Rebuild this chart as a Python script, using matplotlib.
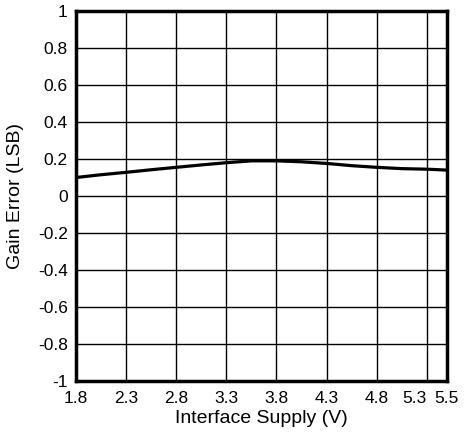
import matplotlib
matplotlib.use("Agg")
import matplotlib.pyplot as plt

supply_v = [1.8, 2.05, 2.3, 2.55, 2.8, 3.05, 3.3, 3.55, 3.8, 4.05, 4.3, 4.55, 4.8, 5.05, 5.3, 5.5]
gain_err = [0.100, 0.115, 0.128, 0.142, 0.155, 0.168, 0.180, 0.190, 0.190, 0.185, 0.176, 0.164, 0.155, 0.148, 0.145, 0.140]

xticks = [1.8, 2.3, 2.8, 3.3, 3.8, 4.3, 4.8, 5.3, 5.5]
xtick_labels = ["1.8", "2.3", "2.8", "3.3", "3.8", "4.3", "4.8", "5.3", "5.5"]
yticks = [-1, -0.8, -0.6, -0.4, -0.2, 0, 0.2, 0.4, 0.6, 0.8, 1]
ytick_labels = ["-1", "-0.8", "-0.6", "-0.4", "-0.2", "0", "0.2", "0.4", "0.6", "0.8", "1"]

plt.rcParams['font.family'] = ['Liberation Sans', 'DejaVu Sans']

fig = plt.figure(figsize=(4.67, 4.34), dpi=100)
ax = fig.add_axes([0.1627, 0.122, 0.7943, 0.8527])
ax.plot(supply_v, gain_err, color='black', linewidth=2.3, zorder=3)
ax.set_xlim(1.8, 5.5)
ax.set_ylim(-1, 1)
ax.set_xticks(xticks)
ax.set_xticklabels(xtick_labels)
ax.set_yticks(yticks)
ax.set_yticklabels(ytick_labels)
ax.grid(True, color='black', linewidth=1.0)
ax.tick_params(length=0, labelsize=12.5)
ax.tick_params(axis='y', pad=6)
ax.tick_params(axis='x', pad=7)
xl = ax.get_xticklabels()
xl[7].set_horizontalalignment('right')
for s in ax.spines.values():
    s.set_linewidth(2.5)
ax.set_xlabel("Interface Supply (V)", fontsize=14, labelpad=3)
ax.set_ylabel("Gain Error (LSB)", fontsize=14, labelpad=10)
fig.savefig("out.png", dpi=100)
